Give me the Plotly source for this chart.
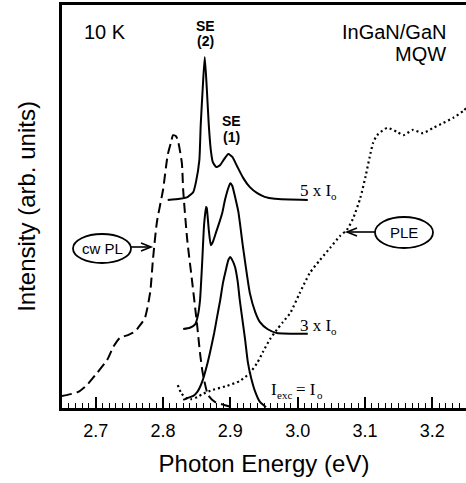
import plotly.graph_objects as go

# Photon energy (eV) and intensity (arb. units) for each spectrum
cwpl_e = [2.650, 2.657, 2.674, 2.687, 2.702, 2.717, 2.726, 2.736, 2.748, 2.758, 2.763,
          2.773, 2.781, 2.785, 2.791, 2.800, 2.807, 2.812, 2.815, 2.819, 2.822, 2.828,
          2.830, 2.836, 2.843, 2.851, 2.855, 2.859, 2.867, 2.877, 2.892, 2.902]
cwpl_i = [3.0, 3.2, 4.0, 5.7, 8.7, 11.9, 15.1, 17.4, 18.1, 18.9, 19.9,
          22.3, 28.8, 36.7, 46.2, 54.1, 62.8, 66.0, 67.7, 67.5, 66.5, 60.8,
          54.0, 41.7, 31.8, 20.1, 13.6, 8.7, 3.2, 1.5, 0.7, 0.2]

se5_e = [2.807, 2.825, 2.837, 2.845, 2.849, 2.854, 2.856, 2.859, 2.862, 2.865, 2.868,
         2.871, 2.874, 2.879, 2.885, 2.891, 2.897, 2.903, 2.910, 2.919, 2.929, 2.940,
         2.951, 2.966, 3.015]
se5_i = [51.6, 51.9, 52.4, 53.6, 56.1, 61.5, 70.2, 79.4, 87.1, 79.4, 70.2,
         64.0, 61.0, 59.8, 60.3, 61.8, 63.0, 62.3, 60.0, 57.1, 54.8, 53.3,
         52.4, 51.9, 51.6]

se3_e = [2.830, 2.840, 2.848, 2.852, 2.855, 2.858, 2.861, 2.864, 2.865, 2.868, 2.871,
         2.874, 2.879, 2.883, 2.888, 2.892, 2.897, 2.900, 2.903, 2.907, 2.912, 2.919,
         2.929, 2.937, 2.944, 2.955, 2.969, 3.015]
se3_i = [19.6, 19.9, 20.8, 23.1, 26.8, 35.5, 45.4, 49.9, 49.6, 44.2, 40.4,
         41.2, 43.7, 45.7, 48.4, 51.6, 54.6, 55.8, 55.1, 52.4, 48.6, 39.7,
         28.5, 23.8, 21.3, 19.6, 18.6, 18.4]

se1_e = [2.830, 2.837, 2.845, 2.851, 2.855, 2.859, 2.865, 2.870, 2.876, 2.880, 2.885,
         2.889, 2.894, 2.897, 2.900, 2.902, 2.907, 2.911, 2.914, 2.919, 2.922, 2.926,
         2.931, 2.937, 2.944, 2.953]
se1_i = [2.0, 2.5, 3.0, 4.0, 5.2, 6.9, 10.4, 13.9, 18.6, 22.3, 26.8,
         31.0, 34.7, 36.7, 37.5, 37.0, 35.0, 31.3, 26.8, 20.6, 16.9, 11.4,
         7.4, 4.0, 1.5, 0.2]

ple_e = [2.822, 2.827, 2.834, 2.842, 2.851, 2.859, 2.874, 2.895, 2.914, 2.929, 2.940,
         2.949, 2.959, 2.969, 2.978, 2.989, 3.003, 3.018, 3.033, 3.048, 3.063, 3.073,
         3.082, 3.093, 3.101, 3.107, 3.112, 3.118, 3.133, 3.148, 3.157, 3.171, 3.186,
         3.201, 3.216, 3.231, 3.246, 3.250]
ple_i = [5.7, 3.7, 2.5, 2.2, 2.7, 3.5, 4.5, 5.5, 6.7, 8.7, 11.2,
         14.1, 17.1, 19.4, 21.3, 23.6, 28.5, 33.5, 36.7, 39.7, 42.7, 44.2,
         46.9, 52.1, 57.6, 62.3, 65.8, 67.7, 69.5, 68.5, 67.7, 69.0, 68.2,
         69.5, 70.7, 72.0, 73.7, 74.4]

tick_vals = [2.7, 2.8, 2.9, 3.0, 3.1, 3.2]

X_RANGE = [2.65, 3.25]
Y_RANGE = [0, 100]
W, H = 466, 483
M_L, M_R, M_T, M_B = 62, 0, 5, 75

SANS = "Liberation Sans, Arial, sans-serif"
SERIF = "Liberation Serif, Times New Roman, serif"


# screen-pixel helpers for placing labels and callouts
def ex(px):
    return X_RANGE[0] + (px - M_L) * (X_RANGE[1] - X_RANGE[0]) / (W - M_L - M_R)


def iy(py):
    return Y_RANGE[0] + (H - M_B - py) * (Y_RANGE[1] - Y_RANGE[0]) / (H - M_T - M_B)


fig = go.Figure()
curve = dict(mode="lines", showlegend=False, hoverinfo="skip")
fig.add_trace(go.Scatter(x=cwpl_e, y=cwpl_i,
                         line=dict(color="black", width=2, dash="10px,5px",
                                   shape="spline", smoothing=0.6), **curve))
fig.add_trace(go.Scatter(x=ple_e, y=ple_i,
                         line=dict(color="black", width=2.2, dash="2px,3px",
                                   shape="spline", smoothing=0.6), **curve))
for e, i in [(se5_e, se5_i), (se3_e, se3_i), (se1_e, se1_i)]:
    fig.add_trace(go.Scatter(x=e, y=i,
                             line=dict(color="black", width=2,
                                       shape="spline", smoothing=0.5), **curve))


def label(px, py, text, size, family=SANS, anchor="center", bold=False):
    return dict(x=ex(px), y=iy(py), text=f"<b>{text}</b>" if bold else text,
                xref="x", yref="y", xanchor=anchor, yanchor="middle", showarrow=False,
                font=dict(family=family, size=size, color="black"))


annotations = [
    label(82, 32, "10 K", 20, anchor="left"),
    label(205, 26, "SE", 14, bold=True),
    label(205, 41, "(2)", 14, bold=True),
    label(231, 121, "SE", 14, bold=True),
    label(231, 137, "(1)", 14, bold=True),
    label(448, 32, "InGaN/GaN", 20, anchor="right"),
    label(448, 54, "MQW", 20, anchor="right"),
    # excitation-intensity tags (subscripts drawn as separate small text)
    label(298, 190, "5 x I", 17, family=SERIF, anchor="left"),
    label(329, 196, "o", 11, family=SERIF, anchor="left"),
    label(298, 325, "3 x I", 17, family=SERIF, anchor="left"),
    label(329, 331, "o", 11, family=SERIF, anchor="left"),
    label(269, 389, "I", 17, family=SERIF, anchor="left"),
    label(275, 395, "exc", 11, family=SERIF, anchor="left"),
    label(294, 389, "= I", 17, family=SERIF, anchor="left"),
    label(315, 395, "o", 11, family=SERIF, anchor="left"),
    label(102, 248, "cw PL", 15),
    label(404, 232, "PLE", 15),
]

line_style = dict(color="black", width=1.6)
shapes = [
    dict(type="circle", xref="x", yref="y", x0=ex(73), x1=ex(131), y0=iy(263), y1=iy(234),
         line=dict(color="black", width=1.8)),
    dict(type="circle", xref="x", yref="y", x0=ex(375), x1=ex(433), y0=iy(248), y1=iy(217),
         line=dict(color="black", width=1.8)),
]
# callout arrows: (tail, tip, height, direction)
for tail, tip, py, d in [(131, 151, 247, 1), (375, 347, 232, -1)]:
    shapes.append(dict(type="line", xref="x", yref="y", x0=ex(tail), x1=ex(tip),
                       y0=iy(py), y1=iy(py), line=line_style))
    shapes.append(dict(type="path", xref="x", yref="y", line=line_style,
                       path=(f"M {ex(tip - d * 10)},{iy(py - 4)} L {ex(tip)},{iy(py)} "
                             f"L {ex(tip - d * 10)},{iy(py + 4)}")))

fig.update_layout(
    width=W, height=H,
    margin=dict(l=M_L, r=M_R, t=M_T, b=M_B),
    paper_bgcolor="white", plot_bgcolor="white",
    annotations=annotations, shapes=shapes,
    xaxis=dict(
        range=X_RANGE, showgrid=False, zeroline=False,
        showline=True, linecolor="black", linewidth=3, mirror=True,
        ticks="inside", ticklen=11, tickwidth=1.6, tickcolor="black",
        tickvals=tick_vals, ticktext=[f"{v:.1f}" for v in tick_vals],
        ticklabelstandoff=4,
        tickfont=dict(family=SANS, size=18, color="black"),
        minor=dict(ticks="inside", ticklen=5, tickwidth=1.4, tickcolor="black",
                   dtick=0.01, tick0=2.65, showgrid=False),
        title=dict(text="Photon Energy (eV)", standoff=16,
                   font=dict(family=SANS, size=24, color="black")),
    ),
    yaxis=dict(
        range=Y_RANGE, showgrid=False, zeroline=False,
        showline=True, linecolor="black", linewidth=3,
        ticks="", showticklabels=False,
        title=dict(text="Intensity (arb. units)", standoff=17,
                   font=dict(family=SANS, size=24, color="black")),
    ),
)

fig.write_html("out.html")
